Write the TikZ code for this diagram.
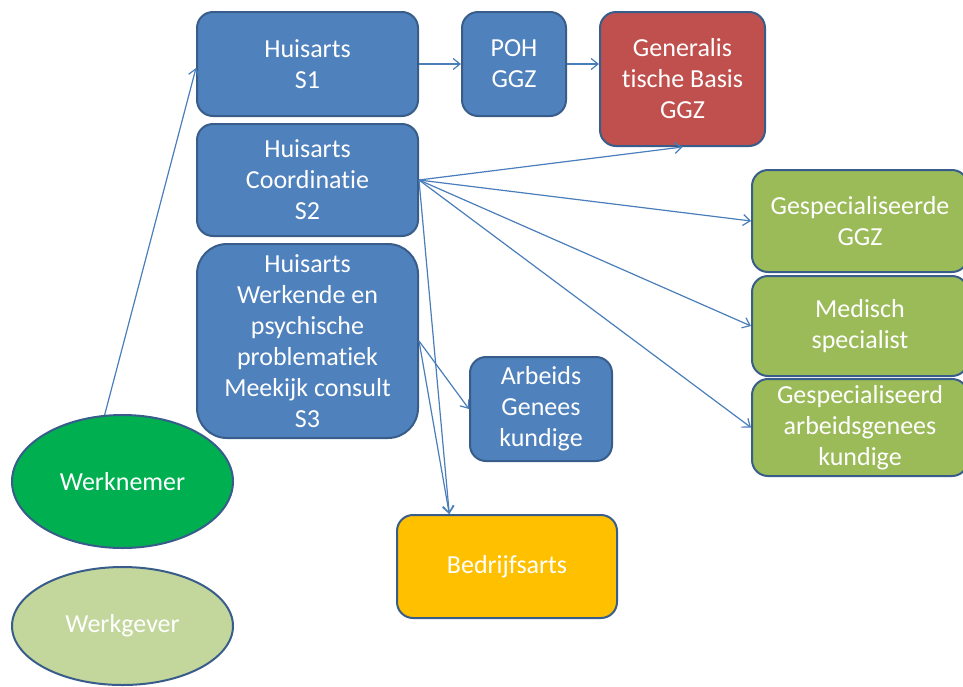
\documentclass[tikz,border=0pt]{standalone}
\usepackage{fontspec}
\setmainfont[Ligatures=NoCommon]{Carlito}
\usetikzlibrary{arrows.meta,calc,shapes.geometric}
\definecolor{bluefill}{HTML}{4F81BD}
\definecolor{blueedge}{HTML}{385D8A}
\definecolor{redfill}{HTML}{C0504D}
\definecolor{greenfill}{HTML}{9BBB59}
\definecolor{orangefill}{HTML}{FFC000}
\definecolor{wnfill}{HTML}{00B050}
\definecolor{wgfill}{HTML}{C3D69B}
\definecolor{arrowblue}{HTML}{4A7EBB}
\begin{document}
\begin{tikzpicture}[x=1pt,y=-1pt,
  box/.style={draw=blueedge, line width=2pt, rounded corners=16pt, text=white,
    align=center, inner sep=0pt, font=\fontsize{26}{31}\selectfont},
  oval/.style={ellipse, draw=blueedge, line width=2pt, text=white, inner sep=0pt,
    font=\fontsize{26}{31}\selectfont},
  conn/.style={draw=arrowblue, line width=1.2pt, -{Straight Barb[length=7pt,width=11pt]}}]
\useasboundingbox (0,0) rectangle (963,686);
% blue boxes
\node[box, fill=bluefill, minimum width=221pt, minimum height=104pt] (s1) at (307.5,64) {Huisarts\\S1};
\node[box, fill=bluefill, minimum width=104pt, minimum height=104pt] (poh) at (514,64) {POH\\GGZ};
\node[box, fill=redfill, minimum width=165pt, minimum height=134pt] (gen) at (682.5,79) {Generalis\\tische Basis\\GGZ};
\node[box, fill=bluefill, minimum width=221pt, minimum height=112pt] (s2) at (307.5,180) {Huisarts\\Coordinatie\\S2};
\node[box, fill=bluefill, minimum width=221pt, minimum height=194pt, rounded corners=30pt] (s3) at (307.5,341) {Huisarts\\Werkende en\\psychische\\problematiek\\Meekijk consult\\S3};
\node[box, fill=bluefill, minimum width=142pt, minimum height=104pt] (ag) at (541,409) {Arbeids\\Genees\\kundige};
\node[box, fill=orangefill, minimum width=220pt, minimum height=103pt] (bed) at (507,566.5) {Bedrijfsarts};
% green boxes
\node[box, fill=greenfill, minimum width=216pt, minimum height=102pt] (gg) at (860,221) {Gespecialiseerde\\GGZ};
\node[box, fill=greenfill, minimum width=216pt, minimum height=100pt] (ms) at (860,326) {Medisch\\specialist};
\node[box, fill=greenfill, minimum width=216pt, minimum height=97pt] (ga) at (860,427.5) {Gespecialiseerd\\arbeidsgenees\\kundige};
% ellipses
\node[oval, fill=wnfill, minimum width=221pt, minimum height=133pt] (wn) at (122.5,481.5) {Werknemer};
\node[oval, fill=wgfill, minimum width=221pt, minimum height=118pt] (wg) at (122.5,626) {Werkgever};
% connectors
\draw[conn] (wn.105) -- ($(s1.west)+(0,4)$);
\draw[conn] (s1.east) -- (poh.west);
\draw[conn] (poh.east) -- (gen.west |- poh.east);
\draw[conn] (s2.east) -- (gen.south);
\draw[conn] (s2.east) -- (gg.west);
\draw[conn] (s2.east) -- (ms.west);
\draw[conn] (s2.east) -- (ga.west);
\draw[conn] (s2.east) -- ($(bed.north west)!0.24!(bed.north east)$);
\draw[conn] (s3.east) -- ($(bed.north west)!0.24!(bed.north east)$);
\draw[conn] (s3.east) -- (ag.west);
\end{tikzpicture}
\end{document}
